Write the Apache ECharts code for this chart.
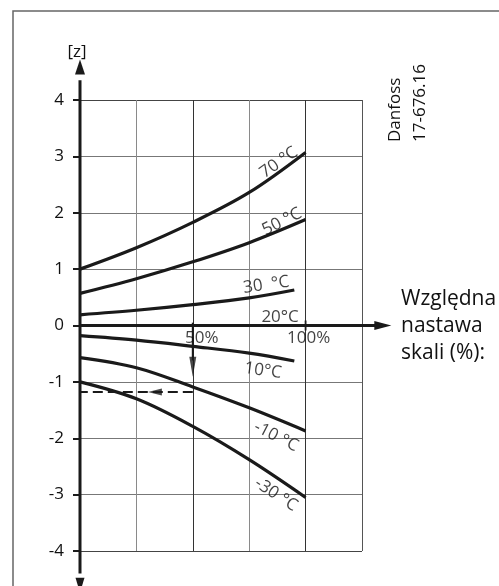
<!DOCTYPE html>
<html><head><meta charset="utf-8">
<script src="https://cdn.jsdelivr.net/npm/echarts@6/dist/echarts.min.js"></script>
<style>html,body{margin:0;padding:0;background:#fff}#c{width:499px;height:586px}</style>
</head><body><div id="c"></div>
<script>
// ---- data ----
const xFull = [0, 25, 50, 75, 100];
const xShort = [0, 25, 50, 75, 95];
const c70 = [1.0, 1.38, 1.83, 2.36, 3.07];
const c50 = [0.57, 0.83, 1.13, 1.47, 1.88];
const c30 = [0.19, 0.27, 0.37, 0.49, 0.63];
const c10 = [-0.18, -0.26, -0.37, -0.49, -0.63];
const cm10 = [-0.57, -0.75, -1.09, -1.46, -1.87];
const cm30 = [-1.0, -1.3, -1.79, -2.38, -3.05];
const curveNames = ['70 °C', '50 °C', '30  °C', '10°C', '-10 °C', '-30 °C'];
const zeroCurveName = '20°C';
const xTickValues = [50, 100];
const xTickLabels = ['50%', '100%'];
const readX = 50;      // example: 50 % setting
const readZ = -1.18;   // example read-off value
const yAxisName = '[z]';
const xAxisName = 'Względna\nnastawa\nskali (%):';
const stamp = 'Danfoss\n17-676.16';

const FONT = '"Open Sans", "Noto Sans", sans-serif';
const INK = '#1a1a1a';
const TXT = '#111';

function pts(xs, ys) { return xs.map((x, i) => [x, ys[i]]); }

function curve(xs, ys) {
  return {
    type: 'line', data: pts(xs, ys), smooth: 0.35, symbol: 'none',
    lineStyle: { color: INK, width: 3.2 }, z: 5, silent: true
  };
}

// curve label anchors (data coordinates) and rotations (deg)
const labelItems = [
  { value: [88.2, 2.89], text: curveNames[0], rot: 35 },
  { value: [89.5, 1.84], text: curveNames[1], rot: 27 },
  { value: [82.6, 0.72], text: curveNames[2], rot: 8 },
  { value: [88.7, 0.15], text: zeroCurveName, rot: 0 },
  { value: [81.1, -0.80], text: curveNames[3], rot: -8 },
  { value: [86.9, -1.97], text: curveNames[4], rot: -27 },
  { value: [86.9, -3.0], text: curveNames[5], rot: -33 }
];

const chart = echarts.init(document.getElementById('c'), null, { renderer: 'canvas' });

const option = {
  animation: false,
  backgroundColor: '#fff',
  textStyle: { fontFamily: FONT },
  grid: { left: 80, right: 137, top: 100, bottom: 35 },
  xAxis: {
    type: 'value', min: 0, max: 125, interval: 25,
    axisLine: { show: false },
    axisTick: { show: false },
    axisLabel: { show: false },
    splitLine: { show: true, lineStyle: { color: ['#333', '#8a8a8a', '#333', '#8a8a8a', '#333', '#555'], width: 1 } }
  },
  yAxis: {
    type: 'value', min: -4, max: 4, interval: 1,
    axisLine: { show: false },
    axisTick: { show: true, length: 7, lineStyle: { color: INK, width: 2 } },
    axisLabel: { margin: 16, fontSize: 17, color: TXT, fontFamily: FONT },
    splitLine: { show: true, lineStyle: { color: ['#444', '#777', '#777', '#777', '#777', '#777', '#777', '#777', '#444'], width: 1 } }
  },
  series: [
    curve(xFull, c70),
    curve(xFull, c50),
    curve(xShort, c30),
    curve(xShort, c10),
    curve(xFull, cm10),
    curve(xFull, cm30),
    // read-off: vertical arrow
    { type: 'line', data: [[readX, 0.05], [readX, -0.62]], symbol: 'none', clip: false, silent: true,
      lineStyle: { color: INK, width: 2 }, z: 6 },
    // read-off: dashed horizontal
    { type: 'line', data: [[readX, readZ], [0, readZ]], symbol: 'none', clip: false, silent: true,
      lineStyle: { color: INK, width: 2, type: [10, 5] }, z: 6 },
    // arrow heads of read-off and x ticks
    { type: 'scatter', clip: false, silent: true, z: 7,
      itemStyle: { color: INK },
      data: [
        { value: [readX, -0.73], symbol: 'triangle', symbolSize: [7, 20], symbolRotate: 180 },
        { value: [33.2, readZ], symbol: 'triangle', symbolSize: [7, 14], symbolRotate: 90 },
        { value: [100, 0], symbol: 'rect', symbolSize: [2, 10] }
      ] },
    // x tick labels
    { type: 'scatter', silent: true, z: 8, symbolSize: 0, clip: false,
      data: xTickValues.map((v, i) => ({
        value: [v, 0],
        label: { show: true, position: 'inside', offset: [i === 0 ? 9 : 3, 13], formatter: xTickLabels[i],
          fontSize: 17, color: TXT, fontFamily: FONT }
      })) },
    // curve labels
    { type: 'scatter', silent: true, z: 8, symbolSize: 0,
      data: labelItems.map(l => ({
        value: l.value,
        label: { show: true, position: 'inside', formatter: l.text, rotate: l.rot,
          fontSize: 17, color: TXT, fontFamily: FONT }
      })) }
  ]
};
chart.setOption(option);

// axes with arrows, positioned through the chart's own scales
const P = v => chart.convertToPixel({ gridIndex: 0 }, v);
const o = P([0, 0]);
const yTop = P([0, 4.35]), yTopTip = P([0, 4.72]);
const yBot = P([0, -4.4]), yBotTip = P([0, -4.74]);
const xEnd = P([133, 0]), xTip = P([138, 0]);
const graphic = [
  { type: 'rect', shape: { x: 13, y: 11, width: 700, height: 800 }, silent: true,
    style: { fill: 'none', stroke: '#666', lineWidth: 1.5 } },
  { type: 'line', shape: { x1: o[0], y1: yBot[1], x2: o[0], y2: yTop[1] }, silent: true, z: 50,
    style: { stroke: INK, lineWidth: 3 } },
  { type: 'polygon', shape: { points: [[o[0], yTopTip[1]], [o[0] - 5, yTopTip[1] + 15], [o[0] + 5, yTopTip[1] + 15]] }, silent: true, z: 50,
    style: { fill: INK } },
  { type: 'polygon', shape: { points: [[o[0], yBotTip[1]], [o[0] - 4.5, yBotTip[1] - 15], [o[0] + 4.5, yBotTip[1] - 15]] }, silent: true, z: 50,
    style: { fill: INK } },
  { type: 'line', shape: { x1: o[0], y1: o[1], x2: xEnd[0], y2: o[1] }, silent: true, z: 50,
    style: { stroke: INK, lineWidth: 3 } },
  { type: 'polygon', shape: { points: [[xTip[0], o[1]], [xTip[0] - 17, o[1] - 4.5], [xTip[0] - 17, o[1] + 4.5]] }, silent: true, z: 50,
    style: { fill: INK } },
  { type: 'text', x: 77, y: 52, silent: true,
    style: { text: yAxisName, font: '17px ' + FONT, fill: TXT, textAlign: 'center', textVerticalAlign: 'middle' } },
  { type: 'text', x: 408, y: 142, rotation: Math.PI / 2, silent: true,
    style: { text: stamp, font: '17px ' + FONT, fill: TXT, lineHeight: 25, textAlign: 'left', textVerticalAlign: 'middle' } },
  { type: 'text', x: 401, y: 286, silent: true,
    style: { text: xAxisName, font: '21px ' + FONT, fill: TXT, lineHeight: 27, textAlign: 'left', textVerticalAlign: 'top' } }
];
chart.setOption({ graphic: graphic });
</script>
</body></html>
